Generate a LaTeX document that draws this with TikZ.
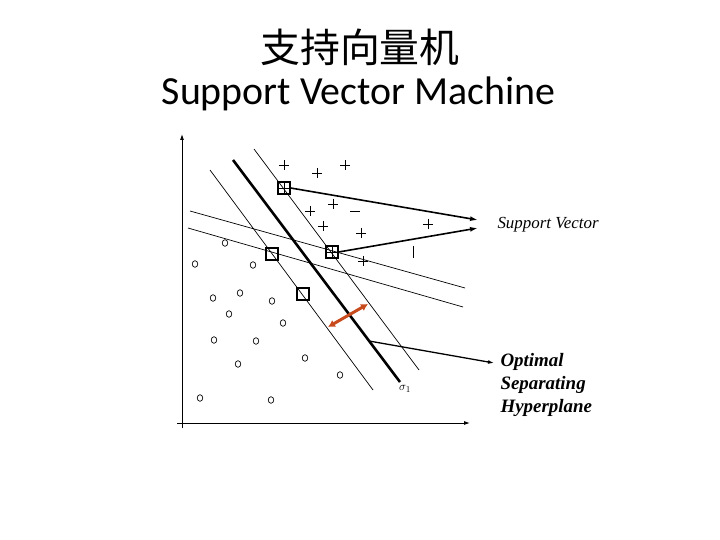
\documentclass[tikz,border=0pt]{standalone}
\usepackage{fontspec}
\setmainfont{Liberation Serif}
\newfontfamily\cjk{Noto Sans CJK SC}
\newfontfamily\titlefont{Carlito}
\usetikzlibrary{arrows.meta}
\definecolor{arrowred}{RGB}{200,75,30}
\tikzset{
  thinline/.style={line width=0.7pt},
  thickline/.style={line width=2.6pt},
  axis/.style={line width=0.9pt,-{Latex[length=6,width=4]}},
  conn/.style={line width=1.6pt,-{Latex[length=8,width=5]}},
  svbox/.style={draw,line width=1.3pt,minimum size=12bp,inner sep=0pt,fill=white,fill opacity=0},
  plusmark/.style={line width=0.8pt},
  omark/.style={line width=0.7pt},
  lbl/.style={font=\itshape\fontsize{17}{20}\selectfont},
  hlbl/.style={font=\bfseries\itshape\fontsize{19}{24}\selectfont},
}
\newcommand{\plusat}[2]{\draw[plusmark] (#1-5,#2) -- (#1+5,#2) (#1,#2-5) -- (#1,#2+5);}
\newcommand{\oat}[2]{\draw[omark] (#1,#2) ellipse [x radius=2.8,y radius=3.3];}
\begin{document}
\begin{tikzpicture}[x=1bp,y=-1bp]
\useasboundingbox (0,0) rectangle (720,540);
% titles
\node[font=\cjk\fontsize{40}{48}\selectfont] (zh) at (360,47) {支持向量机};
\node[font=\titlefont\fontsize{40}{48}\selectfont, anchor=base] (en) at (358.5,105) {Support Vector Machine};
% axes
\coordinate (yb) at (182,428);
\coordinate (yt) at (182,134);
\coordinate (xl) at (177,423);
\coordinate (xr) at (470,423);
\draw[axis] (yb) -- (yt);
\draw[axis] (xl) -- (xr);
% separating lines
\draw[thinline] (210,170) -- (373,390);
\draw[thickline] (233,160) coordinate (hs) -- (400,382) coordinate (he);
\draw[thinline] (254,149) -- (419,370);
\draw[thinline] (190,211) -- (465,288);
\draw[thinline] (188,228) -- (463,307);
% plus points
\plusat{284}{165}
\plusat{345}{165}
\plusat{317}{173}
\plusat{333}{204}
\plusat{310}{211}
\plusat{323}{226}
\plusat{428}{224}
\plusat{361}{233}
\plusat{363}{261}
\draw[plusmark] (350,211) -- (360,211);
\draw[plusmark] (413,246) -- (413,258);
% o points
\oat{225}{243}
\oat{195}{264}
\oat{253}{265}
\oat{213}{298}
\oat{240}{293}
\oat{272}{301}
\oat{229}{314}
\oat{283}{323}
\oat{214}{340}
\oat{256}{341}
\oat{238}{364}
\oat{305}{358}
\oat{340}{375}
\oat{200}{398}
\oat{271}{400}
% support vectors
\node[svbox] (sv1) at (284,188) {};
\node[svbox] (sv2) at (332,252) {};
\node[svbox,line width=1.8pt] (sv3) at (272,254) {};
\node[svbox,line width=1.8pt] (sv4) at (303,294) {};
\plusat{284}{188}
\plusat{332}{252}
% margin arrow
\coordinate (m1) at (328,327);
\coordinate (m2) at (368,304);
\draw[arrowred,line width=3pt,{Latex[length=7,width=8]}-{Latex[length=7,width=8]}] (m1) -- (m2);
% sigma label
\node[font=\fontsize{13}{15}\selectfont] (sig) at (405,389) {$\sigma_1$};
% labels
\node[lbl,anchor=west] (svl) at (494,225) {Support Vector};
\coordinate (t1) at (478,220);
\coordinate (t2) at (478,228);
\draw[conn] (sv1.east) -- (t1);
\draw[conn] (sv2.east) -- (t2);
\node[hlbl,anchor=base west] (op1) at (497,366) {Optimal};
\node[hlbl,anchor=base west] (op2) at (497,389) {Separating};
\node[hlbl,anchor=base west] (op3) at (497,412) {Hyperplane};
\coordinate (hp) at (369,341);
\coordinate (hpt) at (494,363);
\draw[line width=1.3pt,-{Latex[length=6,width=4]}] (hp) -- (hpt);
\end{tikzpicture}
\end{document}
